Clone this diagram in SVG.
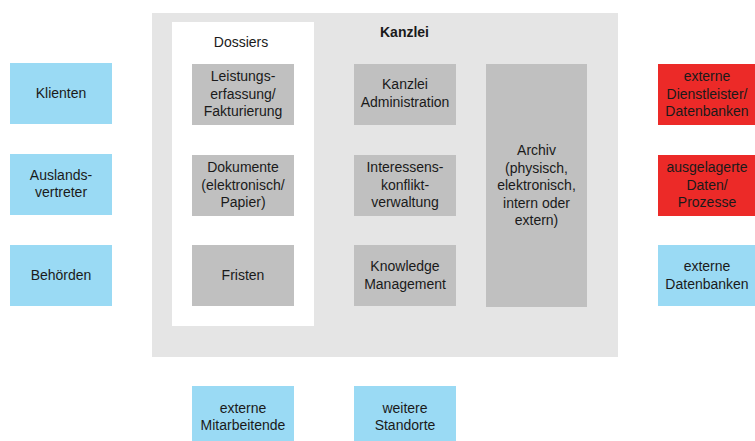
<svg xmlns="http://www.w3.org/2000/svg" width="755" height="441" viewBox="0 0 755 441">
<style>
text{font-family:"Liberation Sans",Arial,sans-serif;font-size:14px;fill:#1a1a1a;text-anchor:middle}
.blue{fill:#9adaf4}
.red{fill:#ec2a28}
.gray{fill:#c0c0c0}
</style>
<rect width="755" height="441" fill="#fff"/>
<g id="kanzlei">
<rect x="152" y="13" width="466" height="344" fill="#e5e5e5"/>
<text x="380" y="37" style="font-weight:bold;text-anchor:start">Kanzlei</text>
</g>
<g id="dossiers">
<rect x="172" y="22" width="142" height="304" fill="#fff"/>
<text x="241" y="47">Dossiers</text>
</g>
<g id="leistung"><rect class="gray" x="192" y="64" width="102" height="61"/><text x="243" y="81">Leistungs-</text><text x="243" y="98.5">erfassung/</text><text x="243" y="116">Fakturierung</text></g>
<g id="dokumente"><rect class="gray" x="192" y="155" width="102" height="61"/><text x="243" y="172">Dokumente</text><text x="243" y="189.5">(elektronisch/</text><text x="243" y="207">Papier)</text></g>
<g id="fristen"><rect class="gray" x="192" y="245" width="102" height="61"/><text x="243" y="280">Fristen</text></g>
<g id="admin"><rect class="gray" x="354" y="64" width="102" height="61"/><text x="405" y="89">Kanzlei</text><text x="405" y="106.5">Administration</text></g>
<g id="konflikt"><rect class="gray" x="354" y="155" width="102" height="61"/><text x="405" y="172">Interessens-</text><text x="405" y="189.5">konflikt-</text><text x="405" y="207">verwaltung</text></g>
<g id="knowledge"><rect class="gray" x="354" y="245" width="102" height="61"/><text x="405" y="271">Knowledge</text><text x="405" y="288.5">Management</text></g>
<g id="archiv"><rect class="gray" x="486" y="64" width="101" height="243"/><text x="536.5" y="155">Archiv</text><text x="536.5" y="172.5">(physisch,</text><text x="536.5" y="190">elektronisch,</text><text x="536.5" y="207.5">intern oder</text><text x="536.5" y="225">extern)</text></g>
<g id="klienten"><rect class="blue" x="10" y="63" width="102" height="61"/><text x="61" y="98">Klienten</text></g>
<g id="auslands"><rect class="blue" x="10" y="154" width="102" height="61"/><text x="61" y="180">Auslands-</text><text x="61" y="197">vertreter</text></g>
<g id="behoerden"><rect class="blue" x="10" y="245" width="102" height="61"/><text x="61" y="280">Behörden</text></g>
<g id="dienstleister"><rect class="red" x="658" y="64" width="102" height="61"/><text x="707" y="81">externe</text><text x="707" y="98.5">Dienstleister/</text><text x="707" y="116">Datenbanken</text></g>
<g id="ausgelagert"><rect class="red" x="658" y="155" width="102" height="61"/><text x="707" y="172">ausgelagerte</text><text x="707" y="189.5">Daten/</text><text x="707" y="207">Prozesse</text></g>
<g id="datenbanken"><rect class="blue" x="658" y="245" width="102" height="61"/><text x="707" y="271">externe</text><text x="707" y="288.5">Datenbanken</text></g>
<g id="mitarbeitende"><rect class="blue" x="192" y="386" width="102" height="61"/><text x="243" y="413">externe</text><text x="243" y="430">Mitarbeitende</text></g>
<g id="standorte"><rect class="blue" x="354" y="386" width="102" height="61"/><text x="405" y="413">weitere</text><text x="405" y="430">Standorte</text></g>
<g id="connectors"/>
</svg>
